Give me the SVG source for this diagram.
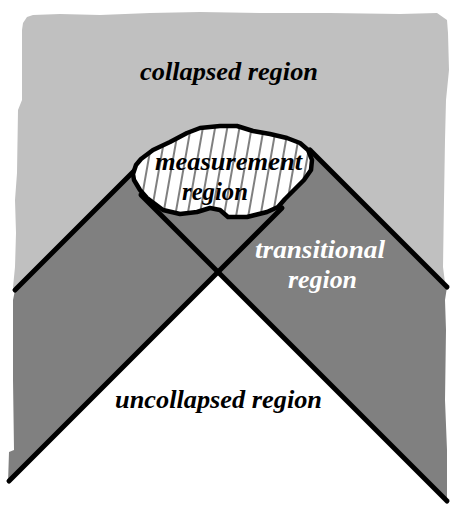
<svg xmlns="http://www.w3.org/2000/svg" width="452" height="507" viewBox="0 0 452 507">
  <defs>
    <pattern id="hatch" patternUnits="userSpaceOnUse" width="12" height="12" patternTransform="rotate(10)">
      <rect width="12" height="12" fill="#ffffff"/>
      <line x1="6" y1="-1" x2="6" y2="13" stroke="#000" stroke-width="1"/>
    </pattern>
  </defs>
  <style>
    .lbl { font-family: "Liberation Serif", "Times New Roman", serif; font-weight: bold; font-style: italic; font-size: 25px; text-anchor: middle; }
    .dark { fill: #000000; }
    .light { fill: #ffffff; }
    .bound { stroke: #000000; stroke-width: 5; stroke-linecap: round; fill: none; }
  </style>
  <rect width="452" height="507" fill="#ffffff"/>

  <g id="collapsed-region">
    <path fill="#c0c0c0" d="M27,17 L33,15 L60,14 L100,15 L150,13 L200,12 L260,13 L330,13 L400,14 L437,13 L447,20 L448,33 L449,70 L446,100 L445,140 L444,200 L443,267 L445,283 L447,287 L218,266 L15,290 L13,287 L15,267 L16,233 L15,200 L17,173 L18,110 L22,100 L22,30 L23,23 Z"/>
    <text class="lbl dark" x="229" y="80" textLength="178" lengthAdjust="spacingAndGlyphs">collapsed region</text>
  </g>

  <g id="transitional-region">
    <path fill="#808080" d="M15,290 L13,300 L13,380 L14,450 L9,452 L8,483 L218,272 L447,501 L447,450 L445,400 L446,330 L445,300 L447,287 L310,150 L135,170 Z"/>
    <text class="lbl light" x="320" y="258" textLength="130" lengthAdjust="spacingAndGlyphs">transitional</text>
    <text class="lbl light" x="322.5" y="288" textLength="69" lengthAdjust="spacingAndGlyphs">region</text>
  </g>

  <g id="uncollapsed-region">
    <text class="lbl dark" x="218.5" y="408" textLength="207" lengthAdjust="spacingAndGlyphs">uncollapsed region</text>
  </g>

  <g id="connectors">
    <line class="bound" x1="15" y1="290" x2="137" y2="168"/>
    <line class="bound" x1="310" y1="150" x2="447" y2="287"/>
    <line class="bound" x1="9" y1="481" x2="282" y2="208"/>
    <line class="bound" x1="447" y1="501" x2="141" y2="195"/>
  </g>

  <g id="measurement-region">
    <path fill="url(#hatch)" stroke="#000" stroke-width="4.5" stroke-linejoin="round" d="M133,174 L136,165 L141,159 L153,150 L170,142 L187,133 L200,128 L220,126 L237,126 L253,131 L270,134 L287,138 L300,143 L308,150 L312,160 L311,170 L304,180 L294,190 L285,199 L278,207 L267,212 L247,217 L228,217 L220,210 L210,208 L197,212 L180,214 L163,210 L147,198 L140,190 L134,180 Z"/>
    <text class="lbl dark" x="228.5" y="170" textLength="147" lengthAdjust="spacingAndGlyphs">measurement</text>
    <text class="lbl dark" x="215" y="200" textLength="66" lengthAdjust="spacingAndGlyphs">region</text>
  </g>
</svg>
